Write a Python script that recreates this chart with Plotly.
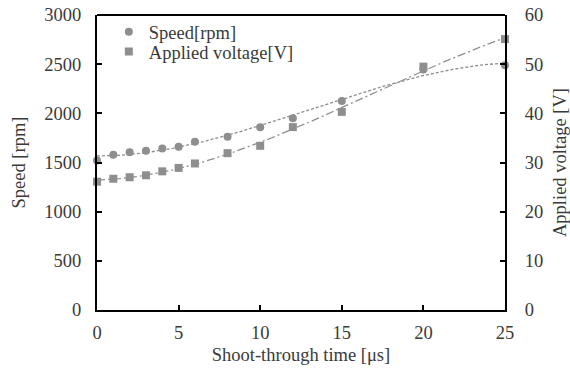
import numpy as np
import plotly.graph_objects as go

time_us = [0, 1, 2, 3, 4, 5, 6, 8, 10, 12, 15, 20, 25]
speed_rpm = [1520, 1578, 1605, 1620, 1643, 1660, 1712, 1762, 1858, 1949, 2125, 2445, 2490]
voltage_v = [26.1, 26.7, 27.0, 27.4, 28.2, 28.9, 29.8, 31.9, 33.4, 37.2, 40.3, 49.5, 55.1]

xs = np.linspace(0, 25, 200)
sp_fit = np.polyval(np.polyfit(time_us, speed_rpm, 3), xs)
vo_fit = np.polyval(np.polyfit(time_us, voltage_v, 3), xs)

grey = "#8e8e8e"
txt = "#3a3a3a"
font = "Liberation Serif"
fs = 18.5

fig = go.Figure()
fig.add_trace(go.Scatter(x=xs, y=sp_fit, mode="lines", showlegend=False,
                         line=dict(color=grey, width=1.3, dash="3px,2px"), hoverinfo="skip"))
fig.add_trace(go.Scatter(x=xs, y=vo_fit, mode="lines", showlegend=False, yaxis="y2",
                         line=dict(color=grey, width=1.3, dash="8px,3px,2px,3px"), hoverinfo="skip"))
fig.add_trace(go.Scatter(x=time_us, y=speed_rpm, mode="markers", name="Speed[rpm]", legend="legend",
                         cliponaxis=False, marker=dict(symbol="circle", size=8, color=grey)))
fig.add_trace(go.Scatter(x=time_us, y=voltage_v, mode="markers", name="Applied voltage[V]", yaxis="y2",
                         cliponaxis=False, legend="legend2",
                         marker=dict(symbol="square", size=8, color=grey)))

axis_common = dict(showgrid=False, zeroline=False, showline=True, linecolor="black", linewidth=2,
                   ticks="inside", ticklen=5, tickwidth=1.5, tickcolor="black", automargin=False,
                   tickfont=dict(family=font, size=fs, color=txt))

leg_common = dict(xanchor="left", yanchor="middle", bgcolor="rgba(0,0,0,0)",
                  font=dict(family=font, size=fs, color=txt), itemwidth=30)

fig.update_layout(
    width=570, height=370,
    margin=dict(l=97, r=65, t=15, b=60),
    plot_bgcolor="white", paper_bgcolor="white",
    font=dict(family=font, size=fs, color=txt),
    xaxis=dict(range=[0, 25], dtick=5, ticklabelstandoff=5,
               title=dict(text="Shoot-through time [μs]", standoff=6, font=dict(family=font, size=fs)),
               **axis_common),
    yaxis=dict(range=[0, 3000], dtick=500, ticklabelstandoff=10,
               title=dict(text="Speed [rpm]", standoff=14, font=dict(family=font, size=fs)),
               **axis_common),
    yaxis2=dict(range=[0, 60], dtick=10, overlaying="y", side="right", ticklabelstandoff=14,
                title=dict(text="Applied voltage [V]", standoff=12, font=dict(family=font, size=fs)),
                **axis_common),
    legend=dict(x=0.029, y=0.942, **leg_common),
    legend2=dict(x=0.029, y=0.875, **leg_common),
    shapes=[dict(type="line", xref="paper", yref="paper", x0=0, x1=1, y0=1, y1=1,
                 line=dict(color="black", width=2))],
)

fig.write_html("out.html", config={"displayModeBar": False},
               post_script="document.body.style.margin='0';")
